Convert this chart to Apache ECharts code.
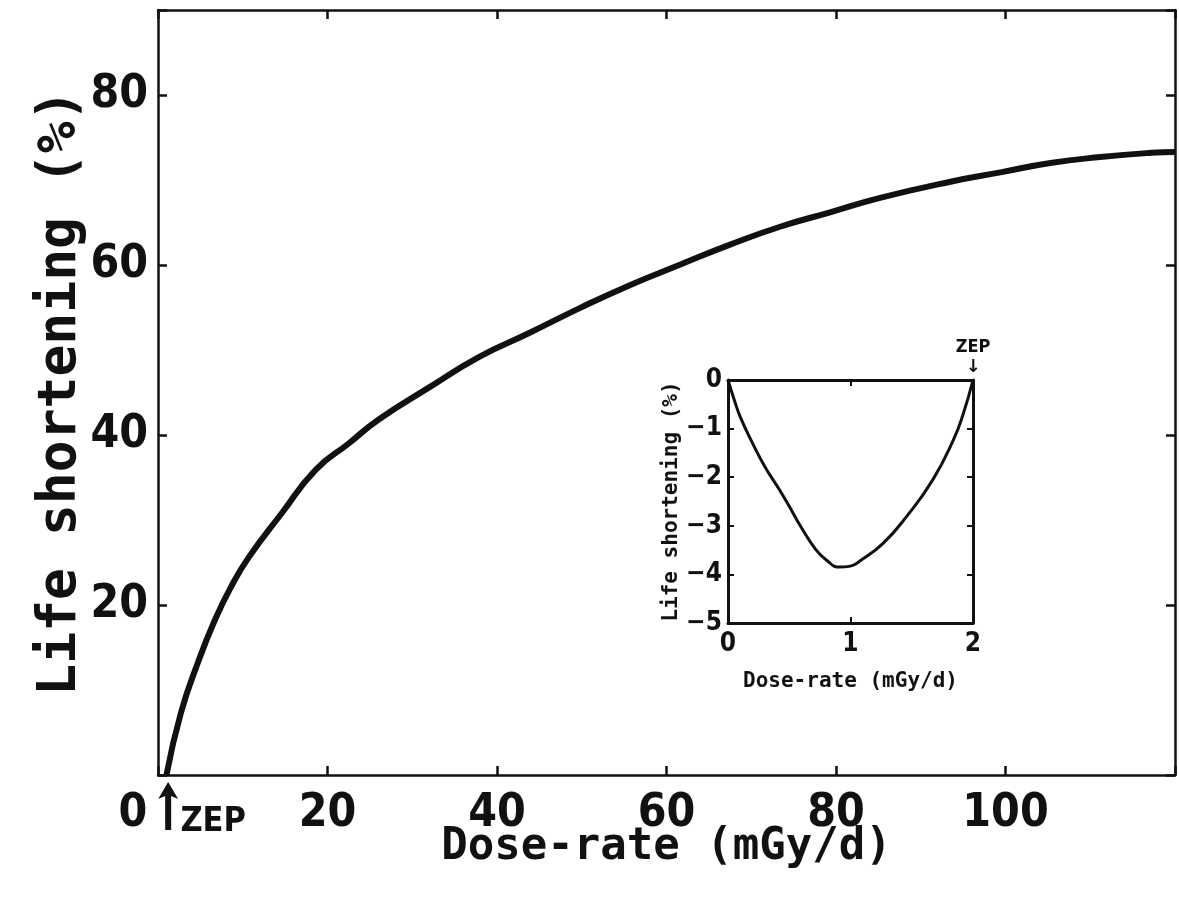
<!DOCTYPE html>
<html><head><meta charset="utf-8">
<script src="https://cdn.jsdelivr.net/npm/echarts@6/dist/echarts.min.js"></script>
<style>html,body{margin:0;padding:0;background:#fff}#c{width:1179px;height:909px}</style>
</head><body><div id="c"></div>
<script>
// Main curve: dose-rate (mGy/d) vs life shortening (%)
const mainDose = [1, 2.7, 4.7, 6.7, 8.6, 10.7, 14.6, 18.6, 22.5, 26, 32, 37.9, 43.8, 49.7, 55.6, 61.5, 67.5, 73.4, 79.3, 85.2, 93.5, 99.4, 105.3, 111.2, 117.2, 120];
const mainShort = [0, 7.3, 13.2, 18.2, 22.1, 25.6, 30.8, 35.9, 39, 41.8, 45.6, 49.2, 52, 54.9, 57.6, 60, 62.4, 64.5, 66.2, 67.9, 69.8, 70.9, 72, 72.7, 73.2, 73.3];
// Inset curve (low dose-rate region)
const insetDose = [0, 0.05, 0.1, 0.2, 0.3, 0.42, 0.5, 0.59, 0.72, 0.8, 0.91, 1.0, 1.08, 1.27, 1.46, 1.67, 1.84, 1.92, 2];
const insetShort = [0, -0.4, -0.76, -1.3, -1.78, -2.26, -2.6, -3.0, -3.5, -3.7, -3.85, -3.83, -3.72, -3.35, -2.8, -2.06, -1.23, -0.7, 0];
// Axis settings / tick labels
const mainXRange = [0, 120], mainXStep = 20;
const mainYRange = [0, 90], mainYStep = 20;
const mainXLabels = [0, 20, 40, 60, 80, 100];
const mainYLabels = [20, 40, 60, 80];
const insetXRange = [0, 2], insetYRange = [-5, 0];
// ZEP markers (zero equivalent point)
const zepMain = [1.2, 0];
const zepInset = [2, 0];
const texts = {
  xName: 'Dose-rate (mGy/d)',
  yName: 'Life shortening (%)',
  zep: 'ZEP'
};

const numFont = "'Liberation Sans Narrow','DejaVu Sans Condensed','Liberation Sans',sans-serif";
const monoFont = "'DejaVu Sans Mono','Liberation Mono',monospace";
const upArrow = 'path://M10,0 L20,17 L13,14 L13,48 L7,48 L7,14 L0,17 Z';

const chart = echarts.init(document.getElementById('c'), null, {renderer: 'canvas'});
const black = '#111';

function zip(a, b) { return a.map((v, i) => [v, b[i]]); }

function frameAxis(extra) {
  return Object.assign({
    type: 'value', splitLine: {show: false}, axisLabel: {show: false},
    nameMoveOverlap: false,
    axisLine: {onZero: false, lineStyle: {color: black, width: 2.5}},
    axisTick: {inside: true, length: 9, lineStyle: {color: black, width: 2.5}}
  }, extra);
}

const option = {
  backgroundColor: '#fff',
  animation: false,
  grid: [
    {left: 158, right: 4, top: 10, bottom: 134},
    {left: 728, top: 380, width: 245, height: 243, z: 5}
  ],
  xAxis: [
    frameAxis({gridIndex: 0, min: mainXRange[0], max: mainXRange[1], interval: mainXStep,
     axisLabel: {show: true, margin: 16, color: black, fontFamily: numFont, fontWeight: 'bold', fontSize: 46,
       formatter: v => v === 0 ? '{z|0}' : (mainXLabels.indexOf(v) >= 0 ? String(v) : ''),
       rich: {z: {fontFamily: numFont, fontWeight: 'bold', fontSize: 46, color: black, padding: [0, 50, 0, 0]}}},
     name: texts.xName, nameLocation: 'middle', nameGap: 51,
     nameTextStyle: {color: black, fontFamily: monoFont, fontWeight: 'bold', fontSize: 44}}),
    frameAxis({gridIndex: 0, position: 'top', min: mainXRange[0], max: mainXRange[1], interval: mainXStep}),
    frameAxis({gridIndex: 1, min: insetXRange[0], max: insetXRange[1], interval: 1,
     axisLine: {onZero: false, lineStyle: {color: black, width: 3}},
     axisTick: {inside: true, length: 6, lineStyle: {color: black, width: 2}},
     axisLabel: {show: true, margin: 8, color: black, fontFamily: numFont, fontWeight: 'bold', fontSize: 26},
     name: texts.xName, nameLocation: 'middle', nameGap: 48,
     nameTextStyle: {color: black, fontFamily: monoFont, fontWeight: 'bold', fontSize: 21}}),
    frameAxis({gridIndex: 1, position: 'top', min: insetXRange[0], max: insetXRange[1], interval: 1,
     axisLine: {onZero: false, lineStyle: {color: black, width: 3}},
     axisTick: {inside: true, length: 6, lineStyle: {color: black, width: 2}}})
  ],
  yAxis: [
    frameAxis({gridIndex: 0, min: mainYRange[0], max: mainYRange[1], interval: mainYStep,
     axisLabel: {show: true, margin: 10, color: black, fontFamily: numFont, fontWeight: 'bold', fontSize: 46,
       formatter: v => mainYLabels.indexOf(v) >= 0 ? String(v) : ''},
     name: texts.yName, nameLocation: 'middle', nameGap: 70,
     nameTextStyle: {color: black, fontFamily: monoFont, fontWeight: 'bold', fontSize: 53}}),
    frameAxis({gridIndex: 0, position: 'right', min: mainYRange[0], max: mainYRange[1], interval: mainYStep}),
    frameAxis({gridIndex: 1, min: insetYRange[0], max: insetYRange[1], interval: 1,
     axisLine: {onZero: false, lineStyle: {color: black, width: 3}},
     axisTick: {inside: true, length: 6, lineStyle: {color: black, width: 2}},
     axisLabel: {show: true, margin: 6, color: black, fontFamily: numFont, fontWeight: 'bold', fontSize: 26,
       formatter: v => String(v).replace('-', '\u2212')},
     name: texts.yName, nameLocation: 'middle', nameGap: 46,
     nameTextStyle: {color: black, fontFamily: monoFont, fontWeight: 'bold', fontSize: 21}}),
    frameAxis({gridIndex: 1, position: 'right', min: insetYRange[0], max: insetYRange[1], interval: 1,
     axisLine: {onZero: false, lineStyle: {color: black, width: 3}},
     axisTick: {inside: true, length: 6, lineStyle: {color: black, width: 2}}})
  ],
  series: [
    {type: 'line', xAxisIndex: 0, yAxisIndex: 0, data: zip(mainDose, mainShort), smooth: true,
     showSymbol: false, lineStyle: {color: black, width: 6}, clip: false,
     markPoint: {silent: true,
       data: [
         {coord: zepMain, symbol: upArrow, symbolSize: [20, 48], symbolKeepAspect: false, symbolOffset: [0, 31],
          itemStyle: {color: black}, label: {show: false}},
         {coord: zepMain, symbol: 'circle', symbolSize: 1, itemStyle: {color: 'rgba(0,0,0,0)'},
          label: {show: true, position: 'bottom', distance: 30, offset: [45, 0], formatter: texts.zep,
           fontFamily: numFont, fontWeight: 'bold', fontSize: 34, lineHeight: 34, color: black}}
       ]}},
    {type: 'line', xAxisIndex: 2, yAxisIndex: 2, data: zip(insetDose, insetShort), smooth: true,
     showSymbol: false, lineStyle: {color: black, width: 3}, z: 6,
     markPoint: {symbol: 'circle', symbolSize: 1, itemStyle: {color: 'rgba(0,0,0,0)'},
       data: [{coord: zepInset}],
       label: {show: true, position: 'top', distance: 2, formatter: texts.zep + '\n{a|\u2193}',
         fontFamily: numFont, fontWeight: 'bold', fontSize: 18, color: black, lineHeight: 20,
         rich: {a: {fontFamily: "'DejaVu Sans'", fontSize: 18, color: black, lineHeight: 20}}}}}
  ]
};
chart.setOption(option);
</script></body></html>
